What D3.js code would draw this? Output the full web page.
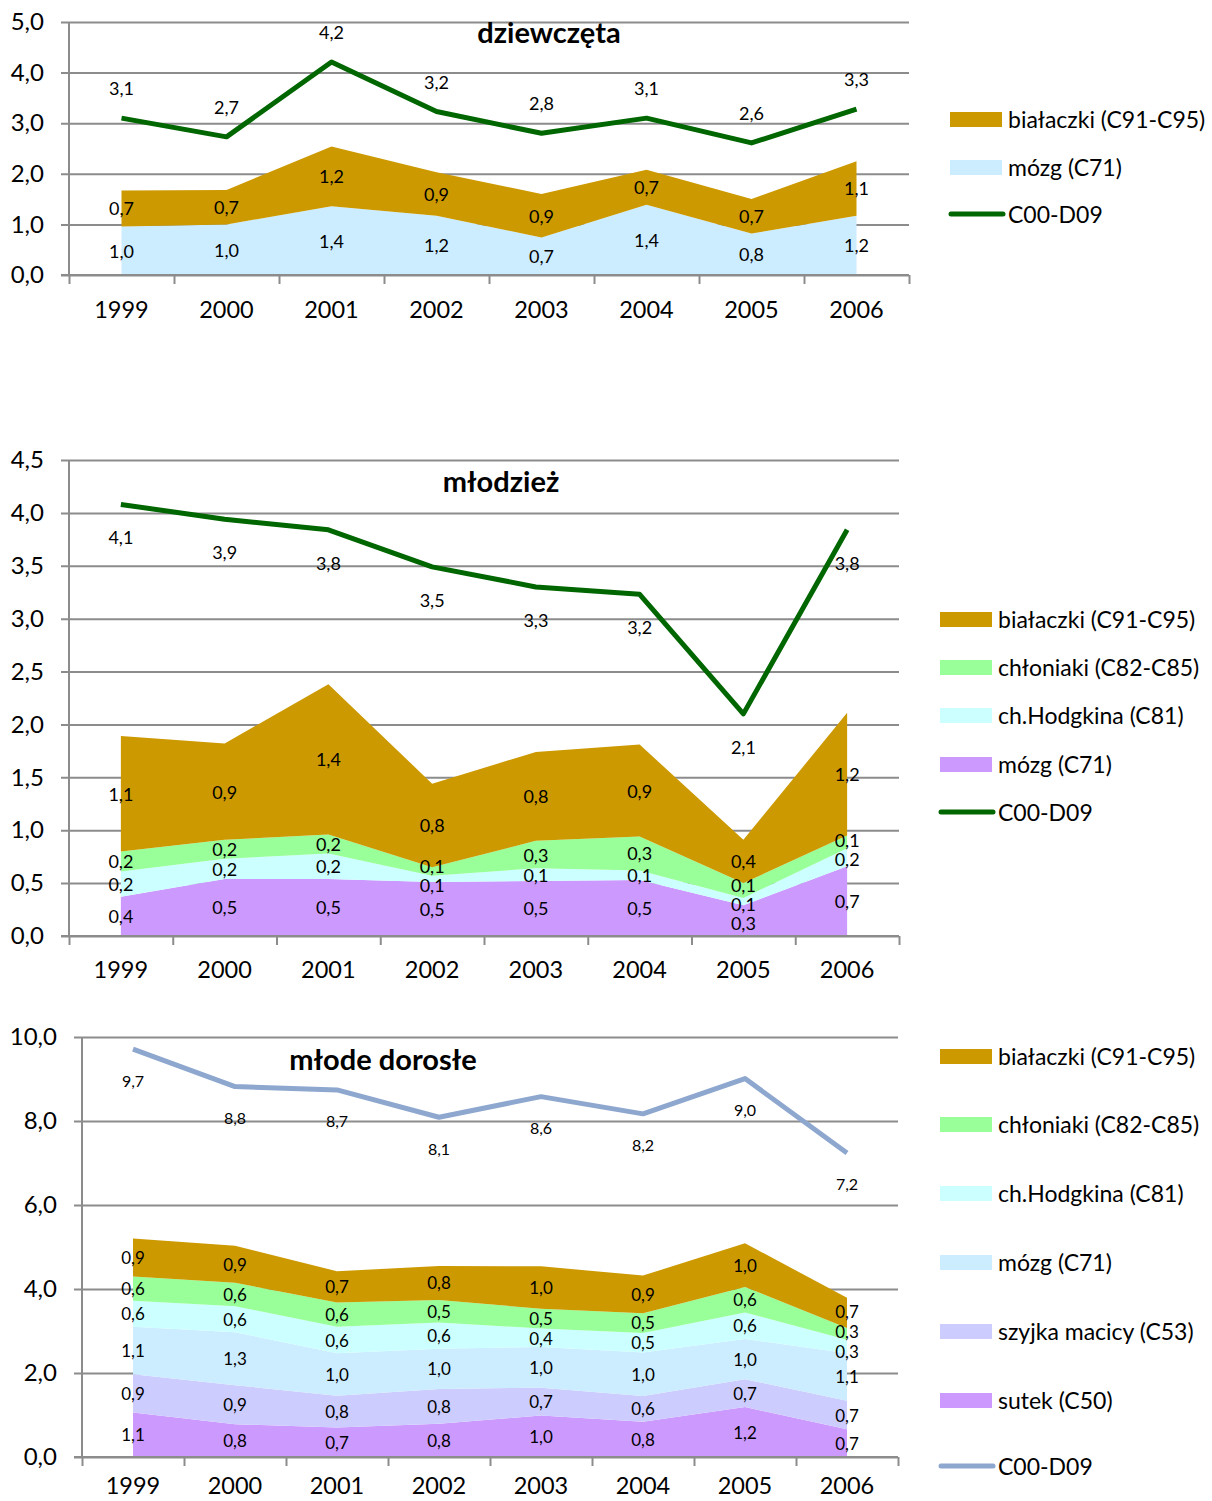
<!DOCTYPE html>
<html>
<head>
<meta charset="utf-8">
<script src="https://cdn.jsdelivr.net/npm/d3@7"></script>
<style>
  html, body { margin: 0; padding: 0; background: #fff; }
  svg { display: block; font-family: Lato, "Open Sans", sans-serif; }
</style>
</head>
<body>
<svg id="chart" width="1212" height="1501"></svg>
<script>
// ---------- shared categories ----------
const years = ["1999", "2000", "2001", "2002", "2003", "2004", "2005", "2006"];

// ---------- panel 1: dziewczęta ----------
const girlsBrain = [0.96, 1.0, 1.36, 1.17, 0.74, 1.39, 0.82, 1.17];
const girlsLeuk  = [0.71, 0.68, 1.18, 0.86, 0.86, 0.69, 0.68, 1.08];
const girlsTotal = [3.10, 2.73, 4.21, 3.23, 2.80, 3.10, 2.61, 3.28];
const girlsTicks = [0, 1, 2, 3, 4, 5];

// ---------- panel 2: młodzież ----------
const youthBrain    = [0.37, 0.54, 0.54, 0.51, 0.52, 0.53, 0.29, 0.66];
const youthHodgkin  = [0.24, 0.19, 0.24, 0.06, 0.12, 0.09, 0.07, 0.17];
const youthLymph    = [0.19, 0.18, 0.18, 0.08, 0.26, 0.32, 0.14, 0.12];
const youthLeuk     = [1.09, 0.91, 1.42, 0.79, 0.84, 0.87, 0.41, 1.16];
const youthTotal    = [4.08, 3.94, 3.84, 3.49, 3.30, 3.23, 2.10, 3.84];
const youthTicks    = [0, 0.5, 1, 1.5, 2, 2.5, 3, 3.5, 4, 4.5];

// ---------- panel 3: młode dorosłe ----------
const adultBreast   = [1.06, 0.78, 0.70, 0.79, 0.99, 0.84, 1.19, 0.66];
const adultCervix   = [0.91, 0.93, 0.76, 0.83, 0.66, 0.61, 0.66, 0.68];
const adultBrain    = [1.13, 1.26, 1.01, 0.96, 0.97, 1.04, 0.96, 1.13];
const adultHodgkin  = [0.62, 0.62, 0.63, 0.62, 0.44, 0.46, 0.63, 0.32];
const adultLymph    = [0.58, 0.56, 0.58, 0.54, 0.47, 0.47, 0.61, 0.28];
const adultLeuk     = [0.90, 0.88, 0.74, 0.81, 1.01, 0.90, 1.04, 0.72];
const adultTotal    = [9.71, 8.82, 8.74, 8.09, 8.58, 8.17, 9.01, 7.24];
const adultTicks    = [0, 2, 4, 6, 8, 10];

// ---------- names & colours ----------
const NAME_LEUK = "białaczki (C91-C95)";
const NAME_LYMPH = "chłoniaki (C82-C85)";
const NAME_HODG = "ch.Hodgkina (C81)";
const NAME_BRAIN = "mózg (C71)";
const NAME_CERVIX = "szyjka macicy (C53)";
const NAME_BREAST = "sutek (C50)";
const NAME_TOTAL = "C00-D09";

const C_LEUK = "#CC9900", C_LYMPH = "#99FF99", C_HODG = "#CCFFFF",
      C_BRAIN_LIGHT = "#CCECFF", C_PURPLE = "#CC99FF", C_CERVIX = "#CCCCFF";

const fmt = v => d3.format(".1f")(v).replace(".", ",");
const svg = d3.select("#chart");
svg.append("rect").attr("width", 1212).attr("height", 1501).attr("fill", "#fff");

function spread(labels, minGap) {
  labels.sort((a, b) => a.y - b.y);
  for (let it = 0; it < 80; it++) {
    let moved = false;
    for (let i = 1; i < labels.length; i++) {
      const gap = labels[i].y - labels[i - 1].y;
      if (gap < minGap - 0.01) {
        const push = (minGap - gap) / 2;
        labels[i - 1].y -= push;
        labels[i].y += push;
        moved = true;
      }
    }
    if (!moved) break;
  }
}

function drawPanel(o) {
  const g = svg.append("g");
  const y = d3.scaleLinear().domain([0, o.max]).range([o.yBot, o.yTop]);
  const xb = d3.scaleBand().domain(years).range([o.x0, o.x1]).padding(0);
  const xc = d => xb(d) + xb.bandwidth() / 2;
  const xi = d3.scaleLinear().domain([0, years.length]).range([o.x0, o.x1]);

  // gridlines + y labels
  const ya = g.append("g").attr("transform", `translate(${o.x0 - 8},0)`)
    .call(d3.axisLeft(y).tickValues(o.ticks).tickSize(-(o.x1 - o.x0 + 8)).tickPadding(17).tickFormat(fmt));
  ya.select(".domain").remove();
  ya.selectAll(".tick line").attr("stroke", "#8C8C8C").attr("stroke-width", 2);
  ya.selectAll(".tick text").attr("fill", "#000").attr("font-size", 24).attr("font-family", "Lato, sans-serif");

  // stacked areas
  const rows = years.map((yr, i) => {
    const r = { year: yr };
    o.series.forEach(s => r[s.name] = s.values[i]);
    return r;
  });
  const stack = d3.stack().keys(o.series.map(s => s.name))(rows);
  const area = d3.area().x(d => xc(d.data.year)).y0(d => y(d[0])).y1(d => y(d[1]));
  stack.forEach((layer, k) => {
    g.append("path").datum(layer).attr("d", area).attr("fill", o.series[k].color);
  });

  // y axis line
  g.append("line").attr("x1", o.x0).attr("x2", o.x0).attr("y1", o.yTop).attr("y2", o.yBot)
    .attr("stroke", "#8C8C8C").attr("stroke-width", 2);

  // x axis tick marks at category boundaries
  const xa = g.append("g").attr("transform", `translate(0,${o.yBot})`)
    .call(d3.axisBottom(xi).tickValues(d3.range(years.length + 1)).tickSize(9).tickFormat(""));
  xa.select(".domain").remove();
  xa.selectAll(".tick line").attr("stroke", "#8C8C8C").attr("stroke-width", 2);
  g.append("line").attr("x1", o.x0 - 8).attr("x2", o.x1).attr("y1", o.yBot).attr("y2", o.yBot)
    .attr("stroke", "#8C8C8C").attr("stroke-width", 2);

  // x labels
  const xl = g.append("g").attr("transform", `translate(0,${o.yBot})`)
    .call(d3.axisBottom(xb).tickSize(0).tickPadding(o.xPad));
  xl.select(".domain").remove();
  xl.selectAll(".tick text").attr("fill", "#000").attr("font-size", 23.5).attr("font-family", "Lato, sans-serif");

  // total line
  const line = d3.line().x((d, i) => xc(years[i])).y(d => y(d));
  g.append("path").datum(o.total.values).attr("d", line).attr("fill", "none")
    .attr("stroke", o.total.color).attr("stroke-width", 5).attr("stroke-linejoin", "round");

  // area labels (center of each band, spread apart when crowded)
  const labelData = [];
  years.forEach((yr, i) => {
    const group = stack.map(layer => {
      const d = layer[i];
      return { x: xc(yr), y: y((d[0] + d[1]) / 2), t: fmt(d[1] - d[0]) };
    });
    spread(group, o.minGap);
    labelData.push(...group);
  });
  g.append("g").selectAll("text").data(labelData).join("text")
    .attr("x", d => d.x).attr("y", d => d.y)
    .attr("text-anchor", "middle").attr("dominant-baseline", "central")
    .attr("font-size", o.areaFont).attr("fill", "#000")
    .text(d => d.t);

  // line labels
  g.append("g").selectAll("text").data(o.total.values).join("text")
    .attr("x", (d, i) => xc(years[i]))
    .attr("y", d => y(d) + o.lineDy)
    .attr("text-anchor", "middle").attr("dominant-baseline", "central")
    .attr("font-size", o.lineFont).attr("fill", "#000")
    .text(d => fmt(d));

  // title
  g.append("text").attr("x", o.titleX).attr("y", o.titleY)
    .attr("text-anchor", "middle").attr("dominant-baseline", "central")
    .attr("font-weight", "bold").attr("font-size", 29).attr("fill", "#000")
    .text(o.title);

  // legend
  const lg = g.append("g");
  o.legend.items.forEach((it, i) => {
    const cy = o.legend.rows[i];
    if (it.type === "line") {
      lg.append("line").attr("x1", o.legend.x + 1).attr("x2", o.legend.x + 53)
        .attr("y1", cy).attr("y2", cy).attr("stroke", it.color)
        .attr("stroke-width", 5).attr("stroke-linecap", "round");
    } else {
      lg.append("rect").attr("x", o.legend.x).attr("y", cy - 7).attr("width", 52).attr("height", 15)
        .attr("fill", it.color);
    }
    lg.append("text").attr("x", o.legend.x + 58).attr("y", cy)
      .attr("dominant-baseline", "central").attr("font-size", 23).attr("fill", "#000")
      .text(it.name);
  });
}

// Panel 1
drawPanel({
  x0: 69, x1: 909, yTop: 22, yBot: 275, max: 5, ticks: girlsTicks, minGap: 17, xPad: 26, areaFont: 18,
  series: [
    { name: NAME_BRAIN, values: girlsBrain, color: C_BRAIN_LIGHT },
    { name: NAME_LEUK, values: girlsLeuk, color: C_LEUK }
  ],
  total: { values: girlsTotal, color: "#006600" },
  lineDy: -30, lineFont: 18,
  title: "dziewczęta", titleX: 549, titleY: 31,
  legend: { x: 950, rows: [119, 167, 214], items: [
    { name: NAME_LEUK, color: C_LEUK },
    { name: NAME_BRAIN, color: C_BRAIN_LIGHT },
    { name: NAME_TOTAL, color: "#006600", type: "line" }
  ] }
});

// Panel 2
drawPanel({
  x0: 69, x1: 899, yTop: 460, yBot: 936, max: 4.5, ticks: youthTicks, minGap: 19, xPad: 25, areaFont: 18,
  series: [
    { name: NAME_BRAIN, values: youthBrain, color: C_PURPLE },
    { name: NAME_HODG, values: youthHodgkin, color: C_HODG },
    { name: NAME_LYMPH, values: youthLymph, color: C_LYMPH },
    { name: NAME_LEUK, values: youthLeuk, color: C_LEUK }
  ],
  total: { values: youthTotal, color: "#006600" },
  lineDy: 33, lineFont: 18,
  title: "młodzież", titleX: 501, titleY: 480,
  legend: { x: 940, rows: [619, 667, 715, 764, 812], items: [
    { name: NAME_LEUK, color: C_LEUK },
    { name: NAME_LYMPH, color: C_LYMPH },
    { name: NAME_HODG, color: C_HODG },
    { name: NAME_BRAIN, color: C_PURPLE },
    { name: NAME_TOTAL, color: "#006600", type: "line" }
  ] }
});

// Panel 3
drawPanel({
  x0: 82, x1: 898, yTop: 1037, yBot: 1457, max: 10, ticks: adultTicks, minGap: 20, xPad: 20, areaFont: 17,
  series: [
    { name: NAME_BREAST, values: adultBreast, color: C_PURPLE },
    { name: NAME_CERVIX, values: adultCervix, color: C_CERVIX },
    { name: NAME_BRAIN, values: adultBrain, color: C_BRAIN_LIGHT },
    { name: NAME_HODG, values: adultHodgkin, color: C_HODG },
    { name: NAME_LYMPH, values: adultLymph, color: C_LYMPH },
    { name: NAME_LEUK, values: adultLeuk, color: C_LEUK }
  ],
  total: { values: adultTotal, color: "#8EA7CF" },
  lineDy: 31, lineFont: 16,
  title: "młode dorosłe", titleX: 383, titleY: 1058,
  legend: { x: 940, rows: [1056, 1124, 1193, 1262, 1331, 1400, 1466], items: [
    { name: NAME_LEUK, color: C_LEUK },
    { name: NAME_LYMPH, color: C_LYMPH },
    { name: NAME_HODG, color: C_HODG },
    { name: NAME_BRAIN, color: C_BRAIN_LIGHT },
    { name: NAME_CERVIX, color: C_CERVIX },
    { name: NAME_BREAST, color: C_PURPLE },
    { name: NAME_TOTAL, color: "#8EA7CF", type: "line" }
  ] }
});
</script>
</body>
</html>
